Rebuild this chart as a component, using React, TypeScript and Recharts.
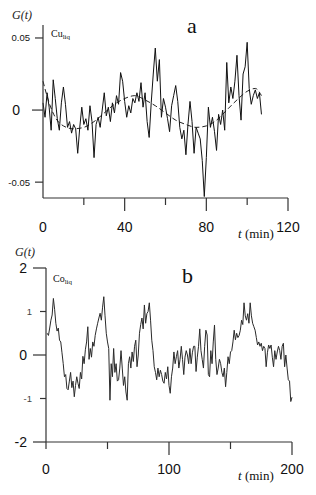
import { Line, LineChart, XAxis, YAxis } from "recharts";

// panel a: Cu(liq), one point per minute starting at t = 0
const cuValues = [
  0.005, -0.005, 0.012, 0.002, -0.014, 0.021, 0.008, -0.006, -0.014, 0.005,
  0.016, 0.004, -0.012, -0.008, -0.016, -0.01, -0.013, -0.03, -0.012, 0.002,
  -0.01, -0.006, -0.014, 0.003, -0.008, -0.033, -0.01, -0.005, -0.012, 0.0,
  0.012, -0.004, 0.002, -0.008, 0.005, -0.002, 0.01, 0.004, 0.026, 0.02,
  0.006, -0.005, 0.003, -0.002, 0.008, 0.005, 0.012, 0.006, 0.019, 0.002,
  0.012, -0.008, -0.019, 0.005, 0.025, 0.043, 0.02, 0.035, -0.005, 0.008,
  0.002, -0.006, -0.015, 0.003, 0.01, 0.017, 0.006, -0.012, -0.02, -0.014,
  -0.031, -0.01, 0.006, -0.008, -0.03, -0.012, -0.016, -0.02, -0.035, -0.06,
  -0.033, 0.002, -0.012, -0.005, -0.015, -0.028, -0.003, -0.01, 0.0, -0.014,
  0.033, 0.005, 0.016, 0.008, 0.02, 0.038, 0.01, -0.007, 0.025, 0.03,
  0.047, 0.015, 0.004, 0.01, 0.014, 0.008, 0.012, -0.003
];

// smooth dashed trend in panel a
const cuFitTimes = [0, 3, 6, 10, 15, 20, 25, 30, 35, 40, 45, 50, 55, 60, 65, 70, 75, 80, 85, 90, 95, 100, 104, 107];
const cuFitValues = [
  0.02, 0.005, -0.005, -0.011, -0.013, -0.012, -0.008, -0.002, 0.004, 0.008, 0.01, 0.007,
  0.003, -0.002, -0.007, -0.01, -0.012, -0.011, -0.007, 0.0, 0.007, 0.013, 0.015, 0.01
];

// panel b: Co(liq), one point per minute starting at t = 1
const coValues = [
  0.5, 0.45, 0.62, 0.8, 0.92, 1.3, 1.05, 0.73, 0.55, 0.62,
  0.34, 0.3, 0.05, -0.2, -0.5, -0.45, -0.77, -0.8, -0.6, -0.4,
  -0.75, -0.6, -0.96, -0.7, -0.5, -0.65, -0.77, -0.4, -0.55, -0.03,
  -0.2, 0.12, 0.3, 0.65, -0.1, 0.15, -0.05, 0.3, 0.2, 0.45,
  0.6, 0.73, 0.85, 0.96, 0.8, 1.1, 1.34, 0.9, 0.5, 0.3,
  0.15, -1.04, -0.2, -0.5, 0.15, -0.4, -0.2, -0.6, -0.57, -0.3,
  0.1, -0.3, -0.7, -0.5, -0.85, -1.04, -0.2, -0.04, -0.3, 0.07,
  -0.15, 0.2, 0.34, -0.27, 0.0, 0.5, 0.7, 0.85, 0.6, 1.15,
  0.73, 0.95, 1.0, 1.2, 0.8, 0.34, 0.1, -0.27, -0.4, -0.57,
  -0.3, -0.5, -0.35, -0.45, -0.6, -0.65, -0.4, -0.55, -0.27, -0.7,
  -0.88, -0.5, -0.3, 0.07, -0.2, -0.04, 0.1, -0.3, -0.1, 0.2,
  -0.1, -0.45, -0.05, 0.1, 0.0, -0.2, 0.15, -0.2, 0.05, 0.2,
  0.2, -0.38, -0.05, 0.2, 0.6, 0.1, -0.1, -0.3, 0.2, 0.57,
  0.46, -0.45, -0.5, 0.1, -0.2, 0.3, 0.69, -0.1, -0.45, -0.3,
  -0.1, -0.2, -0.4, -0.5, -0.3, -0.73, -0.4, -0.04, -0.2, 0.07,
  0.1, 0.3, 0.57, 0.35, 0.5, 0.4, 0.45, 0.57, 0.8, 0.7,
  1.2, 0.9, 0.8, 0.95, 0.73, 1.2, 0.9, 0.73, 0.65, 0.57,
  0.4, 0.23, 0.3, 0.2, 0.27, 0.1, 0.2, 0.15, -0.27, 0.05,
  0.23, 0.15, 0.23, -0.05, -0.27, 0.1, -0.1, 0.07, 0.2, 0.1,
  -0.1, 0.2, 0.27, -0.27, 0.0, -0.3, -0.57, -0.6, -1.07, -0.97
];

const cuXTicks = [0, 20, 40, 60, 80, 100, 120];
const cuYTicks = [-0.05, 0, 0.05];
const coXTicks = [0, 50, 100, 150, 200];
const coYTicks = [-2, -1, 0, 1, 2];

const cuData = cuValues.map((v, i) => ({ t: i, v }));
const cuFitData = cuFitTimes.map((t, i) => ({ t, v: cuFitValues[i] }));
const coData = coValues.map((v, i) => ({ t: i + 1, v }));

const SANS = "'Liberation Sans', Arial, sans-serif";
const SERIF = "'Liberation Serif', 'Times New Roman', serif";
const AXIS = "#333";

function CuXTick({ x, y, payload }: any) {
  const v = payload.value;
  const major = v % 40 === 0;
  return (
    <g>
      {v !== 0 && <line x1={x} x2={x} y1={y} y2={y + (major ? 13 : 7)} stroke={AXIS} strokeWidth={1.2} />}
      {major && (
        <text x={x} y={y + 29} textAnchor="middle" dominantBaseline="central" fontSize={14} fontFamily={SANS} fill="#111">
          {v}
        </text>
      )}
    </g>
  );
}

function CuYTick({ x, y, payload }: any) {
  const v = payload.value;
  const big = v === 0;
  return (
    <g>
      <line x1={x - (big ? 11 : 8)} x2={x} y1={y} y2={y} stroke={AXIS} strokeWidth={1.2} />
      <text
        x={x - (big ? 23 : 13)}
        y={y}
        textAnchor="end"
        dominantBaseline="central"
        fontSize={big ? 14 : 9.5}
        fontFamily={SANS}
        fill="#111"
      >
        {big ? "0" : v.toFixed(2)}
      </text>
    </g>
  );
}

function CoXTick({ x, y, payload }: any) {
  const v = payload.value;
  const major = v % 100 === 0 && v !== 0;
  return (
    <g>
      <line x1={x} x2={x} y1={y} y2={y + (major ? 13 : 7)} stroke={AXIS} strokeWidth={1.2} />
      {v % 100 === 0 && (
        <text x={x} y={y + 27} textAnchor="middle" dominantBaseline="central" fontSize={14} fontFamily={SANS} fill="#111">
          {v}
        </text>
      )}
    </g>
  );
}

function CoYTick({ x, y, payload }: any) {
  const v = payload.value;
  const big = v % 2 === 0;
  return (
    <g>
      <line x1={x - (big ? 13 : 6)} x2={x} y1={y} y2={y} stroke={AXIS} strokeWidth={1.2} />
      <text
        x={x - (big ? 19 : 14)}
        y={y}
        textAnchor="end"
        dominantBaseline="central"
        fontSize={big ? 14 : 9.5}
        fontFamily={SANS}
        fill={big ? "#111" : "#444"}
      >
        {v}
      </text>
    </g>
  );
}

export default function App() {
  return (
    <div style={{ position: "absolute", left: 0, top: 0, width: 316, height: 495, background: "#fff" }}>
      <div style={{ position: "absolute", left: 0, top: 0 }}>
        <LineChart width={316} height={245} margin={{ top: 25, right: 28, bottom: 0, left: 0 }}>
          <XAxis
            type="number"
            dataKey="t"
            domain={[0, 120]}
            ticks={cuXTicks}
            interval={0}
            height={47}
            tickSize={0}
            tickMargin={0}
            tickLine={false}
            axisLine={{ stroke: AXIS, strokeWidth: 1.2 }}
            tick={<CuXTick />}
          />
          <YAxis
            type="number"
            domain={[-0.061, 0.059]}
            allowDataOverflow
            ticks={cuYTicks}
            interval={0}
            width={43}
            tickSize={0}
            tickMargin={0}
            tickLine={false}
            axisLine={{ stroke: AXIS, strokeWidth: 1.2 }}
            tick={<CuYTick />}
          />
          <Line
            data={cuFitData}
            dataKey="v"
            type="monotone"
            stroke="#222"
            strokeWidth={1}
            strokeDasharray="5 3"
            dot={false}
            isAnimationActive={false}
          />
          <Line
            data={cuData}
            dataKey="v"
            type="linear"
            stroke="#111"
            strokeWidth={1}
            dot={false}
            isAnimationActive={false}
          />
        </LineChart>
      </div>
      <div style={{ position: "absolute", left: 0, top: 245 }}>
        <LineChart width={316} height={250} margin={{ top: 23, right: 24, bottom: 0, left: 0 }}>
          <XAxis
            type="number"
            dataKey="t"
            domain={[0, 200]}
            ticks={coXTicks}
            interval={0}
            height={53}
            tickSize={0}
            tickMargin={0}
            tickLine={false}
            axisLine={{ stroke: AXIS, strokeWidth: 1.2 }}
            tick={<CoXTick />}
          />
          <YAxis
            type="number"
            domain={[-2, 2]}
            allowDataOverflow
            ticks={coYTicks}
            interval={0}
            width={46}
            tickSize={0}
            tickMargin={0}
            tickLine={false}
            axisLine={{ stroke: AXIS, strokeWidth: 1.2 }}
            tick={<CoYTick />}
          />
          <Line
            data={coData}
            dataKey="v"
            type="linear"
            stroke="#2a2a2a"
            strokeWidth={1}
            dot={false}
            isAnimationActive={false}
          />
        </LineChart>
      </div>
      <svg width={316} height={495} style={{ position: "absolute", left: 0, top: 0, pointerEvents: "none" }}>
        <text x={12} y={19} fontSize={12} fontStyle="italic" fontFamily={SERIF} fill="#222">G(t)</text>
        <text x={187} y={33} fontSize={22} fontFamily={SERIF} fill="#111">a</text>
        <text x={51} y={37} fontSize={10} fontFamily={SERIF} fill="#111">
          Cu<tspan fontSize={7} dy={2}>liq</tspan>
        </text>
        <text x={238} y={238} fontSize={13} fontFamily={SERIF} fill="#111">
          <tspan fontStyle="italic">t</tspan> (min)
        </text>
        <text x={15} y={256} fontSize={12} fontStyle="italic" fontFamily={SERIF} fill="#222">G(t)</text>
        <text x={182} y={283} fontSize={22} fontFamily={SERIF} fill="#111">b</text>
        <text x={53} y={282} fontSize={10} fontFamily={SERIF} fill="#111">
          Co<tspan fontSize={7} dy={2}>liq</tspan>
        </text>
        <text x={238} y={480} fontSize={13} fontFamily={SERIF} fill="#111">
          <tspan fontStyle="italic">t</tspan> (min)
        </text>
      </svg>
    </div>
  );
}
